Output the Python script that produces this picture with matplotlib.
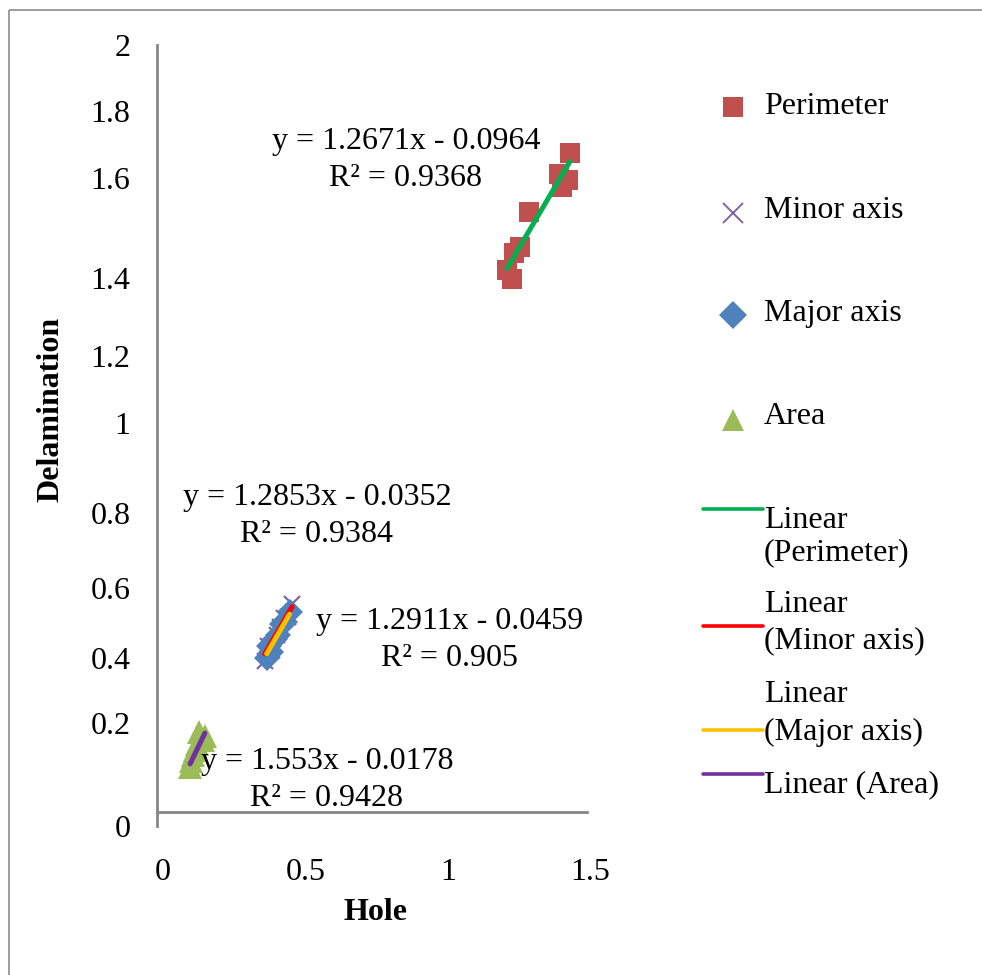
import matplotlib
matplotlib.use("Agg")
import matplotlib.pyplot as plt
import matplotlib.transforms as mtransforms
import numpy as np
from matplotlib.patches import Rectangle

plt.rcParams['font.family'] = ['Liberation Serif', 'DejaVu Serif']

# ---------------- data ----------------
series_names = ["Perimeter", "Minor axis", "Major axis", "Area"]

perim_x = [1.449, 1.411, 1.442, 1.421, 1.305, 1.274, 1.253, 1.228, 1.246]
perim_y = [1.762, 1.707, 1.691, 1.673, 1.607, 1.516, 1.500, 1.455, 1.432]

minor_x = [0.378, 0.390, 0.405, 0.420, 0.432, 0.447, 0.460, 0.474]
minor_y = [0.432, 0.470, 0.462, 0.500, 0.522, 0.545, 0.548, 0.580]

major_x = [0.385, 0.392, 0.400, 0.415, 0.425, 0.440, 0.450, 0.465]
major_y = [0.440, 0.470, 0.455, 0.490, 0.500, 0.530, 0.535, 0.560]

area_x = [0.116, 0.120, 0.128, 0.135, 0.140, 0.148, 0.155, 0.162, 0.168]
area_y = [0.155, 0.170, 0.185, 0.200, 0.215, 0.245, 0.230, 0.225, 0.235]

trend_slope = [1.2671, 1.2853, 1.2911, 1.553]
trend_icpt = [-0.0964, -0.0352, -0.0459, -0.0178]
trend_r2 = [0.9368, 0.9384, 0.905, 0.9428]

xtick_vals = [0, 0.5, 1, 1.5]
xtick_labels = ["0", "0.5", "1", "1.5"]
ytick_labels = ["0", "0.2", "0.4", "0.6", "0.8", "1", "1.2", "1.4", "1.6", "1.8", "2"]

# ---------------- styles / layout ----------------
W, H = 982, 975
marker_colors = ["#C0504D", "#8064A2", "#4F81BD", "#9BBB59"]
markers = ["s", "x", "D", "^"]
msizes = [14.5, 12, 13.5, 17]
trend_colors = ["#00B050", "#FF0000", "#FFC000", "#7030A0"]
axis_gray = "#868686"
FS = 23

# pixel positions of the y tick labels as laid out in the reference
ytick_px = [826, 723, 658, 588, 513, 423, 356, 278, 178, 111, 45]

fig = plt.figure(figsize=(W / 100, H / 100), dpi=100)
L, R, T, B = 157, 584.5, 45, 826
ax = fig.add_axes([L / W, (H - B) / H, (R - L) / W, (B - T) / H])
ax.set_xlim(0, 1.5)
ax.set_ylim(0, (B - T) / 382.0)
ax.patch.set_alpha(0)

xs_all = [perim_x, minor_x, major_x, area_x]
ys_all = [perim_y, minor_y, major_y, area_y]

for i in range(4):
    if markers[i] == "x":
        ax.plot(xs_all[i], ys_all[i], linestyle="none", marker="x", ms=msizes[i],
                mew=1.6, color=marker_colors[i], zorder=2 + i)
    else:
        ax.plot(xs_all[i], ys_all[i], linestyle="none", marker=markers[i], ms=msizes[i],
                mew=0, color=marker_colors[i], zorder=2 + i)

for i in range(4):
    xx = np.array([min(xs_all[i]), max(xs_all[i])])
    ax.plot(xx, trend_slope[i] * xx + trend_icpt[i], color=trend_colors[i],
            lw=3.6, solid_capstyle="round", zorder=10 + i)

for s in ["top", "right"]:
    ax.spines[s].set_visible(False)
ax.spines["left"].set_color(axis_gray)
ax.spines["left"].set_linewidth(2)
ax.spines["bottom"].set_color(axis_gray)
ax.spines["bottom"].set_linewidth(2)
ax.spines["bottom"].set_position(("data", 14 / 382.0))
ax.spines["bottom"].set_bounds(0, 1.51)

ax.set_xticks(xtick_vals, labels=xtick_labels)
# y tick positions converted from reference pixel layout via the axes transform
inv = ax.transData.inverted()
ytick_pos = [inv.transform((0, H - p))[1] for p in ytick_px]
ax.set_yticks(ytick_pos, labels=ytick_labels)
ax.tick_params(axis="both", length=0, labelsize=FS)
ax.tick_params(axis="y", pad=19)
ax.tick_params(axis="x", pad=33)
shift = mtransforms.ScaledTranslation(6 / 100, 0, fig.dpi_scale_trans)
for lab in ax.get_xticklabels():
    lab.set_transform(lab.get_transform() + shift)

ax.set_xlabel("Hole", fontsize=FS, fontweight="bold")
ax.xaxis.set_label_coords((376 - L) / (R - L), (B - 912) / (B - T))
ax.xaxis.label.set_va("center")
ax.set_ylabel("Delamination", fontsize=FS, fontweight="bold")
ax.yaxis.set_label_coords((51 - L) / (R - L), (B - 409) / (B - T))
ax.yaxis.label.set_va("center")

# ---------------- overlay (pixel coordinates) ----------------
ov = fig.add_axes([0, 0, 1, 1])
ov.set_xlim(0, W)
ov.set_ylim(H, 0)
ov.axis("off")
ov.patch.set_alpha(0)

ov.add_patch(Rectangle((9, 10), W + 20, H + 20, fill=False, edgecolor="#8c8c8c", lw=1.2))

eq_centers = [(406, 142), (317, 498), (450, 622), (327, 762)]
for i in range(4):
    cx, cy = eq_centers[i]
    ov.text(cx, cy, f"y = {trend_slope[i]:g}x - {-trend_icpt[i]:g}", ha="center",
            va="center", fontsize=FS)
    ov.text(cx, cy + 36, f"R² = {trend_r2[i]:g}", ha="center", va="center", fontsize=FS)

# legend
leg_marker_y = [107, 213, 315, 420]
leg_text_y = [106, 211, 314, 417]
for i in range(4):
    if markers[i] == "x":
        ov.plot([733], [leg_marker_y[i]], marker="x", ms=14, mew=1.4,
                color=marker_colors[i], linestyle="none")
    else:
        ov.plot([733], [leg_marker_y[i]], marker=markers[i], ms=[15, 0, 14, 16][i],
                mew=0, color=marker_colors[i], linestyle="none")
    ov.text(764, leg_text_y[i], series_names[i], ha="left", va="center", fontsize=FS)

leg_line_y = [509, 626, 730, 774]
leg_line_text = [[(520, "Linear"), (553, "(Perimeter)")],
                 [(605, "Linear"), (641, "(Minor axis)")],
                 [(695, "Linear"), (732, "(Major axis)")],
                 [(785, "Linear (Area)")]]
for i in range(4):
    ov.plot([703, 763], [leg_line_y[i], leg_line_y[i]], color=trend_colors[i], lw=2.6,
            solid_capstyle="round")
    for ty, txt in leg_line_text[i]:
        ov.text(764, ty, txt, ha="left", va="center", fontsize=FS)

fig.savefig("out.png", dpi=100, facecolor="white")
